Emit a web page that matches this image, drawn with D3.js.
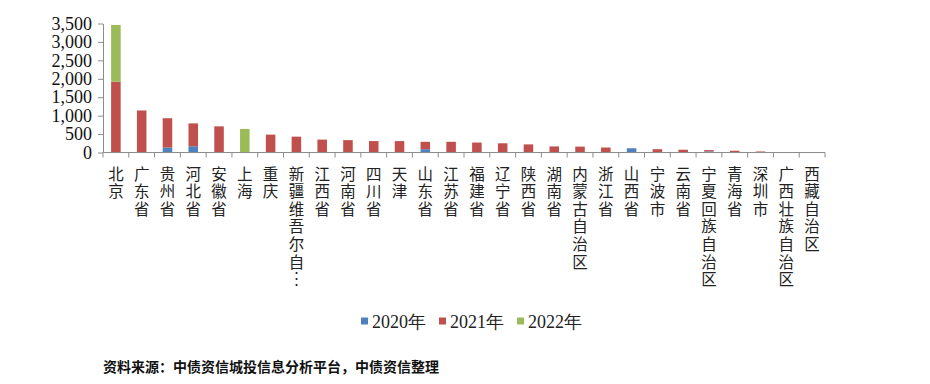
<!DOCTYPE html>
<html>
<head>
<meta charset="utf-8">
<script src="https://cdn.jsdelivr.net/npm/d3@7/dist/d3.min.js"></script>
<style>
  html, body { margin: 0; padding: 0; background: #fff; }
  svg { display: block; }
  .serif { font-family: "Liberation Serif", "Times New Roman", serif; }
  .vlab { writing-mode: vertical-rl; text-orientation: upright; }
</style>
</head>
<body>
<svg id="chart" width="930" height="384"></svg>
<script>
// ---- data ----
const categories = ["北京","广东省","贵州省","河北省","安徽省","上海","重庆","新疆维吾尔自…","江西省","河南省","四川省","天津","山东省","江苏省","福建省","辽宁省","陕西省","湖南省","内蒙古自治区","浙江省","山西省","宁波市","云南省","宁夏回族自治区","青海省","深圳市","广西壮族自治区","西藏自治区"];
const series2020 = [0,0,135,170,0,0,0,0,0,0,0,0,90,0,0,0,0,0,0,0,115,0,0,30,0,0,5,5];
const series2021 = [1920,1140,795,620,710,0,485,430,350,335,310,310,200,290,270,250,220,165,160,135,0,90,75,35,48,28,5,5];
const series2022 = [1540,0,0,0,0,640,0,0,0,0,0,0,0,0,0,0,0,0,0,0,0,0,0,0,0,0,0,0];
const seriesNames = ["2020年","2021年","2022年"];
const yTicks = [0,500,1000,1500,2000,2500,3000,3500];
const sourceText = "资料来源：中债资信城投信息分析平台，中债资信整理";

// ---- styles ----
const colors = ["#4F81BD","#C0504D","#9BBB59"];
const axisColor = "#8c8c8c";
const serif = "Liberation Serif, Times New Roman, serif";
const cjk = "Noto Sans CJK SC, Noto Sans, sans-serif";

const svg = d3.select("#chart");
const x0 = 103, x1 = 825, yTop = 23.5, yBase = 152.5;

const rows = categories.map((c, i) => ({cat: c, "2020年": series2020[i], "2021年": series2021[i], "2022年": series2022[i]}));
const stack = d3.stack().keys(seriesNames)(rows);

const xb = d3.scaleBand().domain(categories).range([x0, x1]).padding(0);
const step = xb.step();
const barW = step * 0.37;
const y = d3.scaleLinear().domain([0, 3500]).range([yBase, yTop]);

// bars
stack.forEach((layer, li) => {
  svg.append("g").attr("fill", colors[li])
    .selectAll("rect").data(layer).join("rect")
    .attr("x", d => xb(d.data.cat) + (step - barW) / 2)
    .attr("width", barW)
    .attr("y", d => y(d[1]))
    .attr("height", d => Math.max(0, y(d[0]) - y(d[1])));
});

// y axis
const yAxis = d3.axisLeft(y).tickValues(yTicks).tickSize(5).tickSizeOuter(0)
  .tickFormat(d3.format(","));
const gy = svg.append("g").attr("transform", `translate(${x0},0)`).call(yAxis)
  .attr("font-family", serif).attr("font-size", 18);
gy.select(".domain").attr("stroke", axisColor);
gy.selectAll(".tick line").attr("stroke", axisColor);
gy.selectAll(".tick text").attr("x", -11).attr("fill", "#111").attr("class", "serif");

// x axis line
svg.append("line").attr("x1", x0).attr("x2", x1).attr("y1", yBase).attr("y2", yBase)
  .attr("stroke", axisColor);
// boundary ticks
const bounds = categories.map(c => xb(c)).concat([x1]);
svg.append("g").selectAll("line").data(bounds).join("line")
  .attr("x1", d => d).attr("x2", d => d)
  .attr("y1", yBase).attr("y2", yBase + 5)
  .attr("stroke", axisColor);

// vertical category labels (one vertical text per category)
const lab = svg.append("g").attr("font-family", cjk).attr("font-size", 15.5).attr("fill", "#222");
categories.forEach(c => {
  const cx = xb(c) + step / 2;
  lab.append("text").attr("class", "vlab")
    .attr("x", cx).attr("y", 166)
    .style("letter-spacing", "2.1px")
    .text(c.replace("…", "︙"));
});

// legend
const legX = [361, 439, 517];
const lg = svg.append("g");
seriesNames.forEach((s, i) => {
  lg.append("rect").attr("x", legX[i]).attr("y", 317.5).attr("width", 7).attr("height", 7).attr("fill", colors[i]);
  lg.append("text").attr("x", legX[i] + 11).attr("y", 327.5).attr("class", "serif")
    .attr("font-size", 18).attr("fill", "#222").text(s);
});

// source
svg.append("text").attr("x", 103).attr("y", 372)
  .attr("font-family", cjk).attr("font-size", 14).attr("font-weight", "bold")
  .attr("fill", "#111").text(sourceText);
</script>
</body>
</html>
